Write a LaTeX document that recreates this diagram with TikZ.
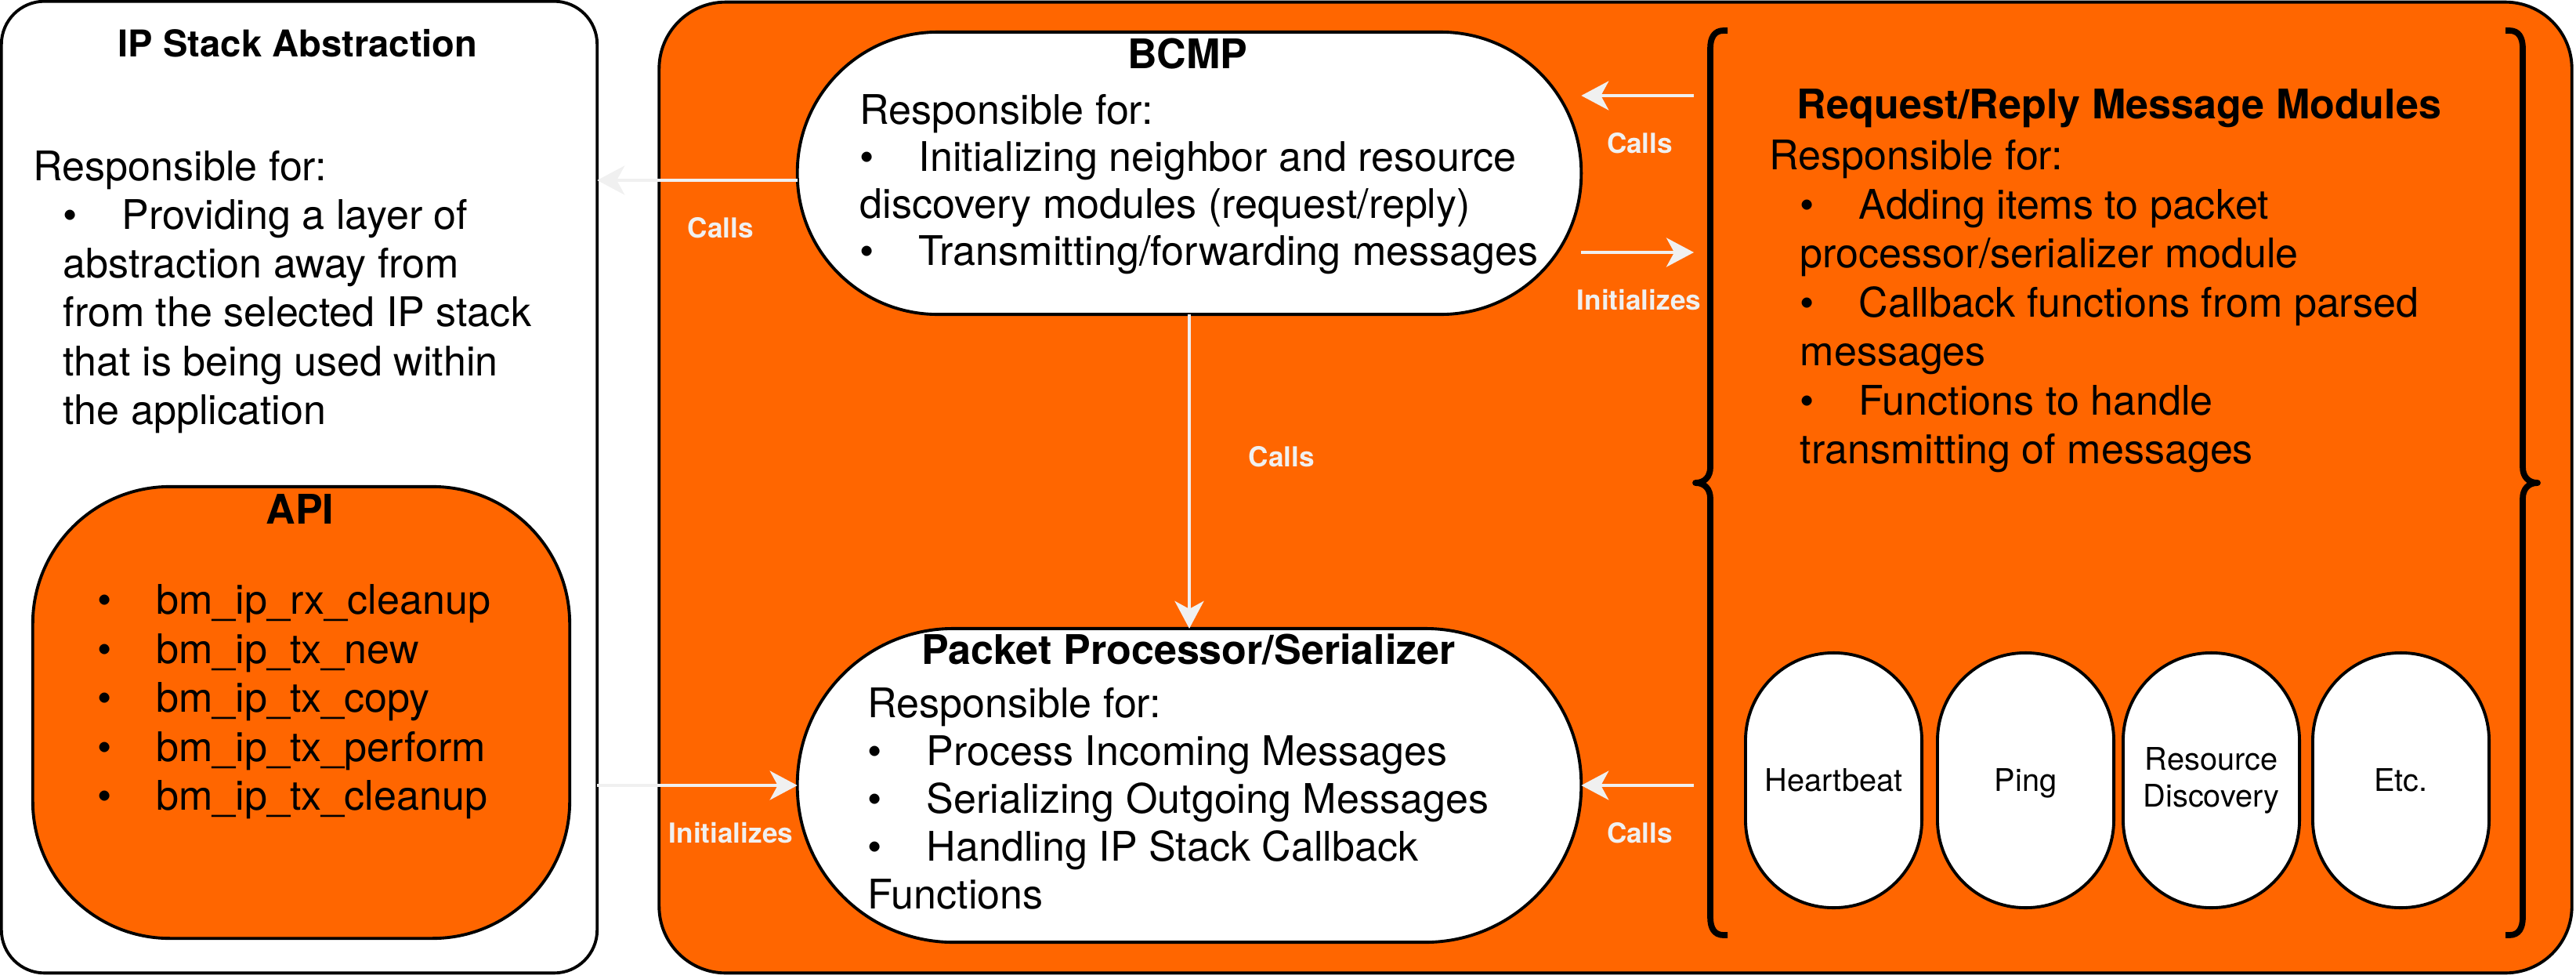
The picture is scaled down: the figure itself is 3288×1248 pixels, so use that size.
\documentclass[tikz,border=0pt]{standalone}
\usepackage{fontspec}
\setmainfont{TeX Gyre Heros}
\usetikzlibrary{arrows.meta}
\definecolor{orng}{HTML}{FF6600}
\definecolor{arrw}{HTML}{F0F0F0}
\newcommand{\txtbody}{\fontsize{14.8pt}{17.6pt}\selectfont}
\newcommand{\txttitle}{\fontsize{14.8pt}{17.6pt}\selectfont\bfseries}
\newcommand{\txtlabel}{\fontsize{10pt}{12pt}\selectfont\bfseries}
\newcommand{\txtpill}{\fontsize{11.3pt}{13.4pt}\selectfont}
\newcommand{\bul}{\makebox[0.75cm][l]{\textbullet}}
\newcommand{\fst}{\rule{0pt}{0.40cm}}
\begin{document}
\begin{tikzpicture}[x=0.01cm,y=-0.01cm,
  shapebox/.style={draw=black, line width=1.1pt, inner sep=0pt, outer sep=0pt},
  pill/.style={shapebox, fill=white, minimum width=2.25cm, minimum height=3.25cm,
    rounded corners=1.12cm, font=\txtpill, align=center},
  arr/.style={draw=arrw, line width=1.2pt, -{Stealth[length=0.35cm,width=0.37cm,inset=0.1cm]}},
  lbl/.style={text=arrw, font=\txtlabel, inner sep=0pt},
  txt/.style={anchor=north west, align=left, inner sep=0pt, font=\txtbody},
  brk/.style={draw=black, line width=2.2pt, line cap=butt, line join=round}]
\useasboundingbox (0,0) rectangle (3288,1248);

% containers
\node[shapebox, fill=orng, rounded corners=0.85cm, minimum width=24.4cm, minimum height=12.38cm] (main) at (2062,622) {};
\node[shapebox, fill=white, rounded corners=0.55cm, minimum width=7.6cm, minimum height=12.39cm] (ipbox) at (382,621.5) {};
\node[shapebox, fill=orng, rounded corners=1.75cm, minimum width=6.85cm, minimum height=5.76cm] (api) at (384.5,909) {};
\node[shapebox, fill=white, rounded corners=1.79cm, minimum width=10cm, minimum height=3.6cm] (bcmp) at (1518,221) {};
\node[shapebox, fill=white, rounded corners=1.99cm, minimum width=10cm, minimum height=4cm] (pp) at (1518,1002) {};

% pills
\node[pill, text height=0.28cm, text depth=0pt] (hb) at (2340.5,995.5) {Heartbeat};
\node[pill, text height=0.28cm, text depth=0pt] (ping) at (2585.5,995.5) {Ping};
\node[pill] (rd) at (2822.5,995.5) {Resource\\Discovery};
\node[pill, text height=0.28cm, text depth=0pt] (etc) at (3064.5,995.5) {Etc.};

% brackets
\draw[brk] (2205,39) -- (2200,39) .. controls (2188,39) and (2183,48) .. (2183,62)
  -- (2183,596) .. controls (2183,608) and (2176,616) .. (2164,616)
  .. controls (2176,616) and (2183,624) .. (2183,636)
  -- (2183,1170) .. controls (2183,1184) and (2188,1193) .. (2200,1193) -- (2205,1193);
\draw[brk] (3198,39) -- (3203,39) .. controls (3215,39) and (3220,48) .. (3220,62)
  -- (3220,596) .. controls (3220,608) and (3227,616) .. (3239,616)
  .. controls (3227,616) and (3220,624) .. (3220,636)
  -- (3220,1170) .. controls (3220,1184) and (3215,1193) .. (3203,1193) -- (3198,1193);

% titles
\node[anchor=base, inner sep=0pt, font=\fontsize{13.4pt}{16pt}\selectfont\bfseries] (t1) at (380,72) {IP Stack Abstraction};
\node[anchor=base, inner sep=0pt, font=\txttitle] (t2) at (383,668) {API};
\node[anchor=base, inner sep=0pt, font=\txttitle] (t3) at (1516,87) {BCMP};
\node[anchor=base, inner sep=0pt, font=\txttitle] (t4) at (1517,847) {Packet Processor/Serializer};
\node[anchor=base, inner sep=0pt, font=\txttitle] (t5) at (2705,151) {Request/Reply Message Modules};

% body texts
\node[txt, font=\fontsize{14.8pt}{17.65pt}\selectfont] (b1) at (42,190) {\fst Responsible for:\\
\hspace*{0.38cm}\bul Providing a layer of\\
\hspace*{0.38cm}abstraction away from\\
\hspace*{0.38cm}from the selected IP stack\\
\hspace*{0.38cm}that is being used within\\
\hspace*{0.38cm}the application};

\node[txt, font=\fontsize{14.8pt}{17.78pt}\selectfont] (b2) at (124,743) {\fst\bul bm\_ip\_rx\_cleanup\\
\bul bm\_ip\_tx\_new\\
\bul bm\_ip\_tx\_copy\\
\bul bm\_ip\_tx\_perform\\
\bul bm\_ip\_tx\_cleanup};

\node[txt, font=\fontsize{14.8pt}{17.07pt}\selectfont] (b3) at (1097,118) {\fst Responsible for:\\
\bul Initializing neighbor and resource\\
discovery modules (request/reply)\\
\bul Transmitting/forwarding messages};

\node[txt, font=\fontsize{14.8pt}{17.35pt}\selectfont] (b4) at (1107,875) {\fst Responsible for:\\
\bul Process Incoming Messages\\
\bul Serializing Outgoing Messages\\
\bul Handling IP Stack Callback\\
Functions};

\node[txt, font=\fontsize{14.8pt}{17.78pt}\selectfont] (b5) at (2258,176) {\fst Responsible for:\\
\hspace*{0.39cm}\bul Adding items to packet\\
\hspace*{0.39cm}processor/serializer module\\
\hspace*{0.39cm}\bul Callback functions from parsed\\
\hspace*{0.39cm}messages\\
\hspace*{0.39cm}\bul Functions to handle\\
\hspace*{0.39cm}transmitting of messages};

% connectors
\coordinate (yA) at (0,230);
\coordinate (yB) at (0,1002);
\coordinate (brkC) at (2162,122);
\coordinate (brkD) at (2162,322);
\coordinate (brkB) at (2162,1002);
\draw[arr] (bcmp.west |- yA) -- (ipbox.east |- yA);
\draw[arr] (ipbox.east |- yB) -- (pp.west);
\draw[arr] (bcmp.south) -- (pp.north);
\draw[arr] (brkC) -- (bcmp.east |- brkC);
\draw[arr] (bcmp.east |- brkD) -- (brkD);
\draw[arr] (brkB) -- (pp.east);

% labels
\node[lbl] (l1) at (920,291) {Calls};
\node[lbl] (l2) at (933,1063) {Initializes};
\node[lbl] (l3) at (1636,583) {Calls};
\node[lbl] (l4) at (2093,183) {Calls};
\node[lbl] (l5) at (2092,383) {Initializes};
\node[lbl] (l6) at (2093,1063) {Calls};
\end{tikzpicture}
\end{document}
